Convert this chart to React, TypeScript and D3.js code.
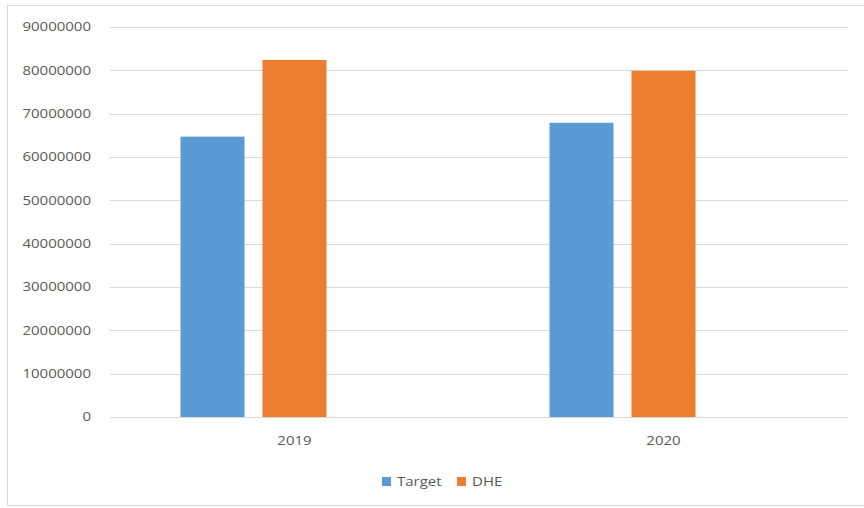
import React from "react";
import * as d3 from "d3";

const categories = ["2019", "2020"];
const series = ["Target", "DHE"];
const targetValues = [64700000, 67900000];
const dheValues = [82400000, 79900000];
const yTicks = [0, 10000000, 20000000, 30000000, 40000000, 50000000, 60000000, 70000000, 80000000, 90000000];
const colors = ["#5B9BD5", "#ED7D31"];

const font = "'Open Sans', 'Liberation Sans', sans-serif";

function Label({ x, y, anchor, children }: { x: number; y: number; anchor: string; children: React.ReactNode }) {
  return (
    <text
      transform={`translate(${x},${y}) scale(1.25,1)`}
      dy="0.35em"
      textAnchor={anchor}
      fontFamily={font}
      fontSize={12}
      fill="#595959"
    >
      {children}
    </text>
  );
}

export default function App() {
  const W = 864, H = 508;
  const left = 110, right = 848, top = 27, bottom = 417;
  const x = d3.scaleBand<string>().domain(categories).range([left, right]).padding(0);
  // Excel layout reserves a third (empty) slot in each group
  const inner = d3.scaleBand<string>().domain([...series, "_empty"]).range([0, 228]).paddingInner(18 / 82);
  const y = d3.scaleLinear().domain([0, 90000000]).range([bottom, top]);
  const values = [targetValues, dheValues];
  return (
    <svg width={W} height={H} style={{ position: "absolute", left: 0, top: 0 }}>
      <rect x={0} y={0} width={W} height={H} fill="#fff" />
      <rect x={7.5} y={5.5} width={870} height={500} fill="#fff" stroke="#D9D9D9" strokeWidth={1} />
      {yTicks.map((t) => (
        <g key={t}>
          <line x1={left} x2={right} y1={Math.round(y(t)) + 0.5} y2={Math.round(y(t)) + 0.5} stroke="#D9D9D9" strokeWidth={1} />
          <Label x={91} y={y(t)} anchor="end">{d3.format("d")(t)}</Label>
        </g>
      ))}
      {categories.map((c, i) => {
        const cx = (x(c) as number) + x.bandwidth() / 2;
        const g0 = cx - 114;
        return (
          <g key={c}>
            {series.map((s, j) => (
              <rect
                key={s}
                x={g0 + (inner(s) as number)}
                y={y(values[j][i])}
                width={inner.bandwidth()}
                height={bottom - y(values[j][i])}
                fill={colors[j]}
              />
            ))}
            <Label x={cx} y={441} anchor="middle">{c}</Label>
          </g>
        );
      })}
      {series.map((s, j) => {
        const lx = [382, 457][j];
        return (
          <g key={s}>
            <rect x={lx} y={477} width={9} height={9} fill={colors[j]} />
            <Label x={lx + 15} y={482} anchor="start">{s}</Label>
          </g>
        );
      })}
    </svg>
  );
}
